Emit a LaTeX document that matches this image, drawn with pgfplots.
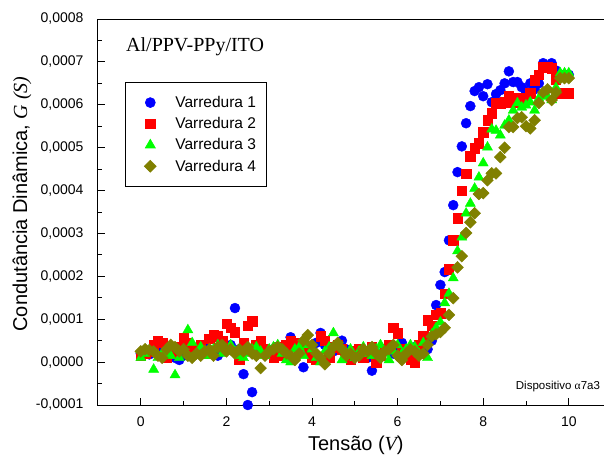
\documentclass[border=0pt]{standalone}
\usepackage{fontspec}
\setmainfont{Liberation Sans}
\newfontfamily\tnr{Liberation Serif}
\usepackage{pgfplots}
\pgfplotsset{compat=1.18}
\definecolor{olivec}{RGB}{128,128,0}
\definecolor{grn}{RGB}{0,255,0}
\begin{document}
\begin{tikzpicture}
\useasboundingbox (-98pt,-50pt) rectangle (506pt,405pt);
\begin{axis}[
  at={(0pt,0pt)}, anchor=south west, scale only axis,
  width=513.6pt, height=386pt,
  xmin=-1, xmax=11, ymin=-0.0001, ymax=0.0008,
  xtick={0,2,4,6,8,10},
  ytick={-0.0001,0,0.0001,0.0002,0.0003,0.0004,0.0005,0.0006,0.0007,0.0008},
  minor x tick num=1, minor y tick num=1,
  tick align=inside, tick pos=left,
  major tick length=7pt, minor tick length=4pt,
  axis line style={line width=1pt}, every tick/.style={line width=1pt, black},
  scaled y ticks=false,
  yticklabel style={xshift=-11pt, /pgf/number format/.cd, fixed, fixed zerofill, precision=4, use comma, assume math mode=true},
  xticklabel style={yshift=-8pt, /pgf/number format/assume math mode=true},
  tick label style={font=\fontsize{14}{16}\selectfont},
  xlabel={Tensão ({\tnr\itshape V})},
  ylabel={Condutância Dinâmica, {\tnr\itshape G (S)}},
  label style={font=\fontsize{20}{22}\selectfont},
  xlabel style={at={(axis description cs:0.502,-0.105)}, anchor=center},
  ylabel style={at={(axis description cs:-0.148,0.521)}, anchor=center},
  legend style={at={(axis description cs:0.0526,0.837)}, anchor=north west, draw=black, line width=0.6pt,
    font=\fontsize{15.5}{17}\selectfont, inner xsep=8pt, inner ysep=12pt, row sep=4.5pt},
  legend cell align=left,
  legend image code/.code={\path[draw=none,fill=none] (-17pt,0pt) (23pt,0pt); \draw[mark repeat=2,mark phase=2] plot coordinates {(-3pt,0pt) (0pt,0pt) (3pt,0pt)};},
]
% Varredura 1
\addplot[only marks, mark=*, mark size=5pt, color=blue, mark options={fill=blue, draw=blue}] coordinates {
(0.0,0.20e-4)(0.1,0.25e-4)(0.2,0.18e-4)(0.3,0.30e-4)(0.4,0.40e-4)(0.5,0.30e-4)(0.6,0.22e-4)(0.7,0.15e-4)(0.8,0.10e-4)(0.9,0.05e-4)
(1.0,0.15e-4)(1.1,0.30e-4)(1.2,0.25e-4)(1.3,0.20e-4)(1.4,0.30e-4)(1.5,0.35e-4)(1.6,0.28e-4)(1.7,0.20e-4)(1.8,0.15e-4)(1.9,0.25e-4)
(2.0,0.30e-4)(2.1,0.40e-4)(2.2,1.26e-4)(2.3,0.30e-4)(2.4,-0.28e-4)(2.5,-1.00e-4)(2.6,-0.70e-4)(2.7,0.20e-4)(2.8,0.35e-4)(2.9,0.30e-4)
(3.0,0.25e-4)(3.1,0.30e-4)(3.2,0.20e-4)(3.3,0.35e-4)(3.4,0.25e-4)(3.5,0.58e-4)(3.6,0.40e-4)(3.7,0.20e-4)(3.8,-0.12e-4)(3.9,0.20e-4)
(4.0,0.30e-4)(4.1,0.45e-4)(4.2,0.68e-4)(4.3,0.40e-4)(4.4,0.30e-4)(4.5,0.25e-4)(4.6,0.40e-4)(4.7,0.50e-4)(4.8,0.30e-4)(4.9,0.20e-4)
(5.0,0.15e-4)(5.1,0.30e-4)(5.2,0.20e-4)(5.3,0.10e-4)(5.4,-0.20e-4)(5.5,0.15e-4)(5.6,0.20e-4)(5.7,0.30e-4)(5.8,0.25e-4)(5.9,0.20e-4)
(6.0,0.35e-4)(6.1,0.45e-4)(6.2,0.30e-4)(6.3,0.20e-4)(6.4,0.35e-4)(6.5,0.40e-4)(6.6,0.40e-4)(6.7,0.30e-4)(6.8,0.50e-4)(6.9,1.33e-4)
(7.0,1.80e-4)(7.1,2.10e-4)(7.2,2.84e-4)(7.3,3.66e-4)(7.4,4.43e-4)(7.5,5.03e-4)(7.6,5.57e-4)(7.7,5.97e-4)(7.8,6.32e-4)(7.9,6.41e-4)
(8.0,6.20e-4)(8.1,6.48e-4)(8.2,6.06e-4)(8.3,6.25e-4)(8.4,6.34e-4)(8.5,6.50e-4)(8.6,6.78e-4)(8.7,6.53e-4)(8.8,6.53e-4)(8.9,6.41e-4)
(9.0,6.30e-4)(9.1,6.50e-4)(9.2,6.36e-4)(9.3,6.50e-4)(9.4,6.97e-4)(9.5,6.90e-4)(9.6,6.97e-4)(9.7,6.80e-4)(9.8,6.70e-4)(9.9,6.70e-4)(10.0,6.70e-4)
};
\addlegendentry{Varredura 1}
% Varredura 2
\addplot[only marks, mark=square*, mark size=4.7pt, color=red, mark options={fill=red, draw=red}] coordinates {
(0.0,0.15e-4)(0.1,0.20e-4)(0.2,0.25e-4)(0.3,0.40e-4)(0.4,0.50e-4)(0.5,0.45e-4)(0.6,0.10e-4)(0.7,0.30e-4)(0.8,0.20e-4)(0.9,0.35e-4)
(1.0,0.56e-4)(1.1,0.45e-4)(1.2,0.30e-4)(1.3,0.25e-4)(1.4,0.40e-4)(1.5,0.20e-4)(1.6,0.55e-4)(1.7,0.63e-4)(1.8,0.60e-4)(1.9,0.50e-4)
(2.0,0.90e-4)(2.1,0.80e-4)(2.2,0.70e-4)(2.3,0.05e-4)(2.4,0.45e-4)(2.5,0.85e-4)(2.6,0.95e-4)(2.7,0.40e-4)(2.8,0.50e-4)(2.9,0.30e-4)
(3.0,0.20e-4)(3.1,0.10e-4)(3.2,0.35e-4)(3.3,0.15e-4)(3.4,0.40e-4)(3.5,0.50e-4)(3.6,0.45e-4)(3.7,0.35e-4)(3.8,0.40e-4)(3.9,0.30e-4)
(4.0,0.10e-4)(4.1,0.05e-4)(4.2,0.60e-4)(4.3,0.50e-4)(4.4,0.10e-4)(4.5,0.35e-4)(4.6,0.40e-4)(4.7,0.30e-4)(4.8,0.20e-4)(4.9,0.05e-4)
(5.0,0.25e-4)(5.1,0.30e-4)(5.2,0.10e-4)(5.3,0.25e-4)(5.4,0.35e-4)(5.5,0.00e-4)(5.6,0.15e-4)(5.7,0.30e-4)(5.8,0.40e-4)(5.9,0.80e-4)
(6.0,0.67e-4)(6.1,0.30e-4)(6.2,0.20e-4)(6.3,0.05e-4)(6.4,0.00e-4)(6.5,0.40e-4)(6.6,0.60e-4)(6.7,0.98e-4)(6.8,0.85e-4)(6.9,1.10e-4)
(7.0,1.14e-4)(7.1,1.60e-4)(7.2,2.17e-4)(7.3,2.84e-4)(7.4,3.36e-4)(7.5,4.00e-4)(7.6,4.40e-4)(7.7,4.80e-4)(7.8,4.99e-4)(7.9,5.10e-4)
(8.0,5.36e-4)(8.1,5.64e-4)(8.2,5.80e-4)(8.3,6.04e-4)(8.4,6.04e-4)(8.5,6.06e-4)(8.6,6.20e-4)(8.7,6.06e-4)(8.8,6.15e-4)(8.9,6.15e-4)
(9.0,6.15e-4)(9.1,6.27e-4)(9.2,6.57e-4)(9.3,6.70e-4)(9.4,6.88e-4)(9.5,6.88e-4)(9.6,6.85e-4)(9.7,6.60e-4)(9.8,6.27e-4)(9.9,6.27e-4)(10.0,6.27e-4)
};
\addlegendentry{Varredura 2}
% Varredura 3
\addplot[only marks, mark=triangle*, mark size=5.8pt, color=grn, mark options={fill=grn, draw=grn}] coordinates {
(0.0,0.10e-4)(0.1,0.20e-4)(0.2,0.25e-4)(0.3,-0.17e-4)(0.4,0.10e-4)(0.5,0.20e-4)(0.6,0.25e-4)(0.7,0.15e-4)(0.8,-0.30e-4)(0.9,0.10e-4)
(1.0,0.30e-4)(1.1,0.75e-4)(1.2,0.45e-4)(1.3,0.20e-4)(1.4,0.35e-4)(1.5,0.25e-4)(1.6,0.15e-4)(1.7,0.30e-4)(1.8,0.40e-4)(1.9,0.20e-4)
(2.0,0.30e-4)(2.1,0.40e-4)(2.2,0.25e-4)(2.3,0.15e-4)(2.4,0.10e-4)(2.5,0.20e-4)(2.6,0.30e-4)(2.7,0.35e-4)(2.8,0.25e-4)(2.9,0.15e-4)
(3.0,0.30e-4)(3.1,0.35e-4)(3.2,0.40e-4)(3.3,0.20e-4)(3.4,0.05e-4)(3.5,0.00e-4)(3.6,0.30e-4)(3.7,0.35e-4)(3.8,0.15e-4)(3.9,0.40e-4)
(4.0,0.30e-4)(4.1,0.10e-4)(4.2,0.00e-4)(4.3,0.25e-4)(4.4,0.35e-4)(4.5,0.68e-4)(4.6,0.40e-4)(4.7,0.05e-4)(4.8,0.20e-4)(4.9,0.30e-4)
(5.0,0.10e-4)(5.1,0.25e-4)(5.2,0.35e-4)(5.3,0.20e-4)(5.4,0.15e-4)(5.5,0.30e-4)(5.6,0.40e-4)(5.7,0.20e-4)(5.8,0.05e-4)(5.9,0.25e-4)
(6.0,0.40e-4)(6.1,0.20e-4)(6.2,0.30e-4)(6.3,0.40e-4)(6.4,0.35e-4)(6.5,0.20e-4)(6.6,0.45e-4)(6.7,0.10e-4)(6.8,0.65e-4)(6.9,0.80e-4)
(7.0,0.93e-4)(7.1,1.38e-4)(7.2,1.60e-4)(7.3,1.96e-4)(7.4,2.59e-4)(7.5,2.91e-4)(7.6,3.47e-4)(7.7,3.70e-4)(7.8,4.05e-4)(7.9,4.31e-4)
(8.0,4.64e-4)(8.1,5.01e-4)(8.2,5.43e-4)(8.3,5.40e-4)(8.4,5.29e-4)(8.5,5.52e-4)(8.6,5.64e-4)(8.7,5.87e-4)(8.8,6.04e-4)(8.9,5.94e-4)
(9.0,5.99e-4)(9.1,6.06e-4)(9.2,5.87e-4)(9.3,6.15e-4)(9.4,6.20e-4)(9.5,6.20e-4)(9.6,6.11e-4)(9.7,6.40e-4)(9.8,6.74e-4)(9.9,6.74e-4)(10.0,6.74e-4)
};
\addlegendentry{Varredura 3}
% Varredura 4
\addplot[only marks, mark=square*, mark size=4.2pt, color=olivec, mark options={fill=olivec, draw=olivec, rotate=45}] coordinates {
(0.0,0.25e-4)(0.1,0.30e-4)(0.2,0.28e-4)(0.3,0.25e-4)(0.4,0.15e-4)(0.5,0.10e-4)(0.6,0.30e-4)(0.7,0.40e-4)(0.8,0.35e-4)(0.9,0.25e-4)
(1.0,0.30e-4)(1.1,0.15e-4)(1.2,0.10e-4)(1.3,0.20e-4)(1.4,0.15e-4)(1.5,0.25e-4)(1.6,0.30e-4)(1.7,0.15e-4)(1.8,0.35e-4)(1.9,0.40e-4)
(2.0,0.25e-4)(2.1,0.30e-4)(2.2,0.20e-4)(2.3,0.30e-4)(2.4,0.25e-4)(2.5,0.35e-4)(2.6,0.20e-4)(2.7,0.15e-4)(2.8,-0.14e-4)(2.9,0.15e-4)
(3.0,0.25e-4)(3.1,0.30e-4)(3.2,0.35e-4)(3.3,0.30e-4)(3.4,0.20e-4)(3.5,0.15e-4)(3.6,0.05e-4)(3.7,0.20e-4)(3.8,0.50e-4)(3.9,0.63e-4)
(4.0,0.40e-4)(4.1,0.20e-4)(4.2,0.10e-4)(4.3,-0.05e-4)(4.4,0.20e-4)(4.5,0.35e-4)(4.6,0.45e-4)(4.7,0.30e-4)(4.8,0.15e-4)(4.9,0.20e-4)
(5.0,0.10e-4)(5.1,0.15e-4)(5.2,0.30e-4)(5.3,0.25e-4)(5.4,0.35e-4)(5.5,0.20e-4)(5.6,0.10e-4)(5.7,0.25e-4)(5.8,0.30e-4)(5.9,0.40e-4)
(6.0,0.15e-4)(6.1,0.05e-4)(6.2,0.20e-4)(6.3,0.30e-4)(6.4,0.25e-4)(6.5,0.15e-4)(6.6,0.20e-4)(6.7,0.40e-4)(6.8,0.60e-4)(6.9,0.65e-4)
(7.0,0.70e-4)(7.1,0.80e-4)(7.2,1.10e-4)(7.3,1.49e-4)(7.4,2.21e-4)(7.5,2.47e-4)(7.6,3.01e-4)(7.7,3.26e-4)(7.8,3.47e-4)(7.9,3.92e-4)
(8.0,3.94e-4)(8.1,4.24e-4)(8.2,4.40e-4)(8.3,4.40e-4)(8.4,4.78e-4)(8.5,5.00e-4)(8.6,5.48e-4)(8.7,5.48e-4)(8.8,5.69e-4)(8.9,5.71e-4)
(9.0,5.50e-4)(9.1,5.45e-4)(9.2,5.64e-4)(9.3,6.04e-4)(9.4,6.29e-4)(9.5,6.36e-4)(9.6,6.11e-4)(9.7,6.29e-4)(9.8,6.62e-4)(9.9,6.62e-4)(10.0,6.62e-4)
};
\addlegendentry{Varredura 4}
\node[anchor=west, inner sep=0pt, font=\tnr\fontsize{20}{22}\selectfont] at (axis description cs:0.0545,0.927) {Al/PPV-PPy/ITO};
\node[anchor=west, inner sep=0pt, font=\fontsize{11.5}{13}\selectfont] at (axis cs:8.76,-0.56e-4) {Dispositivo {\tnr α}7a3};
\end{axis}
\end{tikzpicture}
\end{document}
